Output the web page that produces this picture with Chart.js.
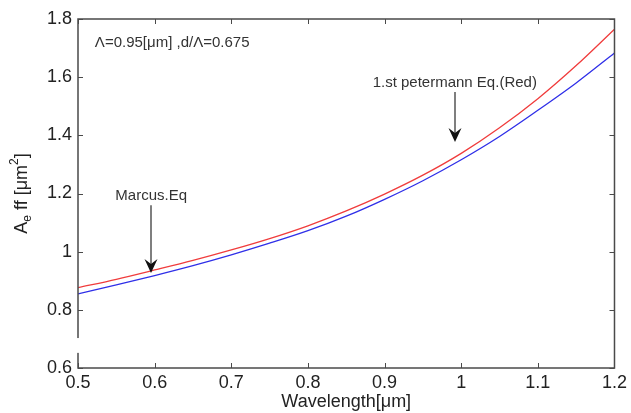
<!DOCTYPE html>
<html>
<head>
<meta charset="utf-8">
<script src="https://cdn.jsdelivr.net/npm/chart.js@4"></script>
<style>
  html, body { margin: 0; padding: 0; background: #fff; }
  #wrap { width: 631px; height: 413px; }
</style>
</head>
<body>
<div id="wrap"><canvas id="c" width="631" height="413"></canvas></div>
<script>
// wavelength [um]
const wavelength = [0.5, 0.55, 0.6, 0.65, 0.7, 0.75, 0.8, 0.85, 0.9, 0.95, 1.0, 1.05, 1.1, 1.15, 1.2];
// 1.st petermann Eq. (red)
const petermann = [0.876, 0.905, 0.937, 0.970, 1.006, 1.045, 1.089, 1.140, 1.198, 1.263, 1.338, 1.426, 1.526, 1.640, 1.765];
// Marcus Eq. (blue)
const marcus = [0.855, 0.886, 0.918, 0.952, 0.989, 1.029, 1.072, 1.122, 1.180, 1.244, 1.316, 1.396, 1.486, 1.580, 1.683];

const xTicks = [0.5, 0.6, 0.7, 0.8, 0.9, 1, 1.1, 1.2];
const yTicks = [0.6, 0.8, 1, 1.2, 1.4, 1.6, 1.8];

const FONT = '"Liberation Sans", Arial, sans-serif';

// text labels with arrows (data coords)
const notes = [
  { text: 'Λ=0.95[μm] ,d/Λ=0.675', x: 0.522, y: 1.718, align: 'left' },
  { text: '1.st petermann Eq.(Red)', x: 0.9916, y: 1.580, align: 'center', arrow: [1.549, 1.377] },
  { text: 'Marcus.Eq', x: 0.5955, y: 1.191, align: 'center', arrow: [1.16, 0.927] }
];

const toPts = ys => wavelength.map((x, i) => ({ x: x, y: ys[i] }));

function drawArrow(ctx, x, y0, y1) {
  ctx.save();
  ctx.strokeStyle = '#555';
  ctx.lineWidth = 1.5;
  ctx.beginPath();
  ctx.moveTo(x, y0);
  ctx.lineTo(x, y1 - 8);
  ctx.stroke();
  ctx.fillStyle = '#111';
  ctx.beginPath();
  ctx.moveTo(x, y1);
  ctx.lineTo(x - 6.5, y1 - 14);
  ctx.lineTo(x, y1 - 9);
  ctx.lineTo(x + 6.5, y1 - 14);
  ctx.closePath();
  ctx.fill();
  ctx.restore();
}

const decor = {
  id: 'decor',
  afterDraw(chart) {
    const ctx = chart.ctx;
    const a = chart.chartArea;
    const xs = chart.scales.x, ys = chart.scales.y;
    ctx.save();

    // frame
    ctx.strokeStyle = '#4a4a4a';
    ctx.lineWidth = 1.5;
    ctx.strokeRect(a.left, a.top, a.right - a.left, a.bottom - a.top);

    // inward ticks
    ctx.lineWidth = 1;
    ctx.beginPath();
    xTicks.forEach(v => {
      const px = Math.round(xs.getPixelForValue(v)) + 0.5;
      ctx.moveTo(px, a.bottom); ctx.lineTo(px, a.bottom - 5);
      ctx.moveTo(px, a.top); ctx.lineTo(px, a.top + 5);
    });
    yTicks.forEach(v => {
      const py = Math.round(ys.getPixelForValue(v)) + 0.5;
      ctx.moveTo(a.left, py); ctx.lineTo(a.left + 5, py);
      ctx.moveTo(a.right, py); ctx.lineTo(a.right - 5, py);
    });
    ctx.stroke();

    // small break in the left axis line, as in the source picture
    ctx.fillStyle = '#fff';
    const g0 = ys.getPixelForValue(0.703), g1 = ys.getPixelForValue(0.652);
    ctx.fillRect(a.left - 2, g0, 4, g1 - g0);

    // notes and arrows
    ctx.fillStyle = '#333';
    ctx.font = '15px ' + FONT;
    ctx.textBaseline = 'middle';
    notes.forEach(n => {
      const px = xs.getPixelForValue(n.x);
      ctx.textAlign = n.align;
      ctx.fillText(n.text, px, ys.getPixelForValue(n.y));
      if (n.arrow) drawArrow(ctx, Math.round(px), ys.getPixelForValue(n.arrow[0]), ys.getPixelForValue(n.arrow[1]));
    });

    // x axis title
    ctx.fillStyle = '#222';
    ctx.font = '18px ' + FONT;
    ctx.textAlign = 'center';
    ctx.fillText('Wavelength[μm]', (a.left + a.right) / 2, 402);

    // y axis title: A_eff [um^2]
    ctx.translate(22, (a.top + a.bottom) / 2);
    ctx.rotate(-Math.PI / 2);
    const big = '18px ' + FONT, small = '12px ' + FONT;
    const parts = [
      { t: 'A', f: big, dy: 0 },
      { t: 'e', f: small, dy: 6 },
      { t: ' ff [μm', f: big, dy: 0 },
      { t: '2', f: small, dy: -7 },
      { t: ']', f: big, dy: 0 }
    ];
    let w = 0;
    parts.forEach(p => { ctx.font = p.f; p.w = ctx.measureText(p.t).width; w += p.w; });
    let cx = -w / 2;
    ctx.textAlign = 'left';
    parts.forEach(p => {
      ctx.font = p.f;
      ctx.fillText(p.t, cx, p.dy);
      cx += p.w;
    });
    ctx.restore();
  }
};

new Chart(document.getElementById('c'), {
  type: 'line',
  data: {
    datasets: [
      {
        label: '1.st petermann Eq.',
        data: toPts(petermann),
        borderColor: '#f03c3c',
        borderWidth: 1.3,
        pointRadius: 0,
        cubicInterpolationMode: 'monotone',
        fill: false
      },
      {
        label: 'Marcus.Eq',
        data: toPts(marcus),
        borderColor: '#2f2fe8',
        borderWidth: 1.3,
        pointRadius: 0,
        cubicInterpolationMode: 'monotone',
        fill: false
      }
    ]
  },
  options: {
    responsive: false,
    animation: false,
    devicePixelRatio: 1,
    layout: { padding: { left: 0, top: 19, right: 13, bottom: 0 } },
    plugins: { legend: { display: false }, tooltip: { enabled: false } },
    scales: {
      x: {
        type: 'linear',
        min: 0.5,
        max: 1.2,
        afterFit: s => { s.height = 45; },
        afterBuildTicks: s => { s.ticks = xTicks.map(v => ({ value: v })); },
        grid: { display: false, drawTicks: false },
        border: { display: false },
        ticks: {
          padding: 4,
          color: '#222',
          font: { family: FONT, size: 18 },
          maxRotation: 0,
          callback: v => String(+v.toFixed(2))
        }
      },
      y: {
        min: 0.6,
        max: 1.8,
        afterFit: s => { s.width = 78; },
        afterBuildTicks: s => { s.ticks = yTicks.map(v => ({ value: v })); },
        grid: { display: false, drawTicks: false },
        border: { display: false },
        ticks: {
          padding: 6,
          color: '#222',
          font: { family: FONT, size: 18 },
          callback: v => String(+v.toFixed(2))
        }
      }
    }
  },
  plugins: [decor]
});
</script>
</body>
</html>
